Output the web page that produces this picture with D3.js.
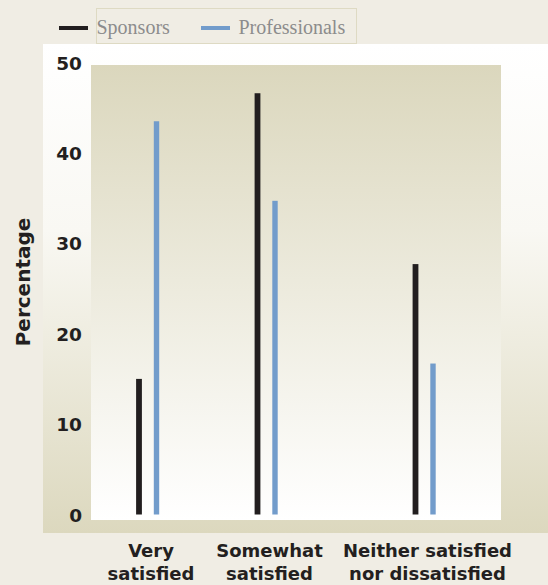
<!DOCTYPE html>
<html lang="en">
    <head>
        <meta charset="utf-8">
        <title>Satisfaction: sponsors vs professionals</title>
    </head>
    <body>
        <svg id="chart" width="548" height="585"></svg>
    </body>
    <script src="https://d3js.org/d3.v7.min.js"></script>
    <style>
        body {
            margin: 0;
            background-color: #f0ede4;
        }

        svg {
            display: block;
        }

        .tick text {
            font-family: 'DejaVu Sans', sans-serif;
            font-weight: bold;
            font-size: 18.5px;
            fill: #231f20;
        }

        text.category {
            font-family: 'DejaVu Sans', sans-serif;
            font-weight: bold;
            font-size: 18px;
            fill: #231f20;
        }

        text.ylabel {
            font-family: 'DejaVu Sans', sans-serif;
            font-weight: bold;
            font-size: 20px;
            fill: #231f20;
        }

        text.legend {
            font-family: 'Liberation Serif', serif;
            font-size: 20px;
            fill: #8c8c8c;
        }
    </style>
    <script>

            const categories = ['Very satisfied', 'Somewhat satisfied', 'Neither satisfied nor dissatisfied'];
            const categoryLines = [['Very', 'satisfied'], ['Somewhat', 'satisfied'], ['Neither satisfied', 'nor dissatisfied']];
            const sponsors = [15, 46.6, 27.7];
            const professionals = [43.5, 34.7, 16.7];
            const yTicks = [0, 10, 20, 30, 40, 50];

            const seriesNames = ['Sponsors', 'Professionals'];
            const seriesColors = ['#221e1f', '#729ccb'];

            const svg = d3.select('#chart');

            // plot box
            const plot = {left: 91, right: 501, top: 65, bottom: 520};

            const yScale = d3.scaleLinear()
                .domain([0, 50])
                .range([514.5, 62.5]);

            // groups are not evenly spaced in the original
            const xScale = d3.scaleOrdinal()
                .domain(categories)
                .range([148, 266.5, 424.5]);

            const defs = svg.append('defs');

            const outerGrad = defs.append('linearGradient')
                .attr('id', 'outerGrad')
                .attr('x1', 0).attr('y1', 0).attr('x2', 0).attr('y2', 1);
            outerGrad.append('stop').attr('offset', '0%').attr('stop-color', '#ffffff');
            outerGrad.append('stop').attr('offset', '38%').attr('stop-color', '#f9f8f3');
            outerGrad.append('stop').attr('offset', '100%').attr('stop-color', '#dcd8be');

            const innerGrad = defs.append('linearGradient')
                .attr('id', 'innerGrad')
                .attr('x1', 0).attr('y1', 0).attr('x2', 0).attr('y2', 1);
            innerGrad.append('stop').attr('offset', '0%').attr('stop-color', '#dbd7bd');
            innerGrad.append('stop').attr('offset', '100%').attr('stop-color', '#ffffff');

            // outer panel
            svg.append('rect')
                .attr('x', 43)
                .attr('y', 44)
                .attr('width', 548 - 43)
                .attr('height', 533 - 44)
                .attr('fill', 'url(#outerGrad)');

            // legend box
            svg.append('rect')
                .attr('x', 96.5)
                .attr('y', 8.5)
                .attr('width', 260)
                .attr('height', 35)
                .attr('fill', '#f0ede4')
                .attr('stroke', '#dedac3');

            // inner plot area
            svg.append('rect')
                .attr('x', plot.left)
                .attr('y', plot.top)
                .attr('width', plot.right - plot.left)
                .attr('height', plot.bottom - plot.top)
                .attr('fill', 'url(#innerGrad)');

            // y axis
            const yAxis = svg.append('g')
                .attr('transform', 'translate(82, 0)')
                .call(d3.axisLeft(yScale).tickValues(yTicks).tickSize(0).tickPadding(0));
            yAxis.select('.domain').remove();
            yAxis.selectAll('.tick text').attr('dy', '0.36em');

            svg.append('text')
                .attr('class', 'ylabel')
                .attr('transform', 'translate(30, 282) rotate(-90)')
                .attr('text-anchor', 'middle')
                .text('Percentage');

            // bars
            const barGroups = svg.selectAll('g.group')
                .data(categories)
                .enter()
                .append('g')
                .attr('class', 'group');

            barGroups.append('rect')
                .attr('x', (c) => xScale(c) - 9 - 2.9)
                .attr('width', 5.8)
                .attr('y', (c, i) => yScale(sponsors[i]))
                .attr('height', (c, i) => yScale(0) - yScale(sponsors[i]))
                .attr('fill', seriesColors[0]);

            barGroups.append('rect')
                .attr('x', (c) => xScale(c) + 8.5 - 2.7)
                .attr('width', 5.4)
                .attr('y', (c, i) => yScale(professionals[i]))
                .attr('height', (c, i) => yScale(0) - yScale(professionals[i]))
                .attr('fill', seriesColors[1]);

            // category labels
            barGroups.append('text')
                .attr('class', 'category')
                .attr('text-anchor', 'middle')
                .attr('transform', (c) => `translate(${xScale(c) + 3}, 557)`)
                .selectAll('tspan')
                .data((c, i) => categoryLines[i])
                .enter()
                .append('tspan')
                .attr('x', 0)
                .attr('y', (l, j) => j * 23)
                .text((l) => l);

            // legend
            const legendX = [59, 201];
            const legend = svg.selectAll('g.legend')
                .data(seriesNames)
                .enter()
                .append('g')
                .attr('class', 'legend')
                .attr('transform', (s, i) => `translate(${legendX[i]}, 28)`);

            legend.append('rect')
                .attr('x', 0)
                .attr('y', -2)
                .attr('width', 29)
                .attr('height', 4)
                .attr('fill', (s, i) => seriesColors[i]);

            legend.append('text')
                .attr('class', 'legend')
                .attr('x', 37.5)
                .attr('y', 6)
                .text((s) => s);

    </script>
</html>
